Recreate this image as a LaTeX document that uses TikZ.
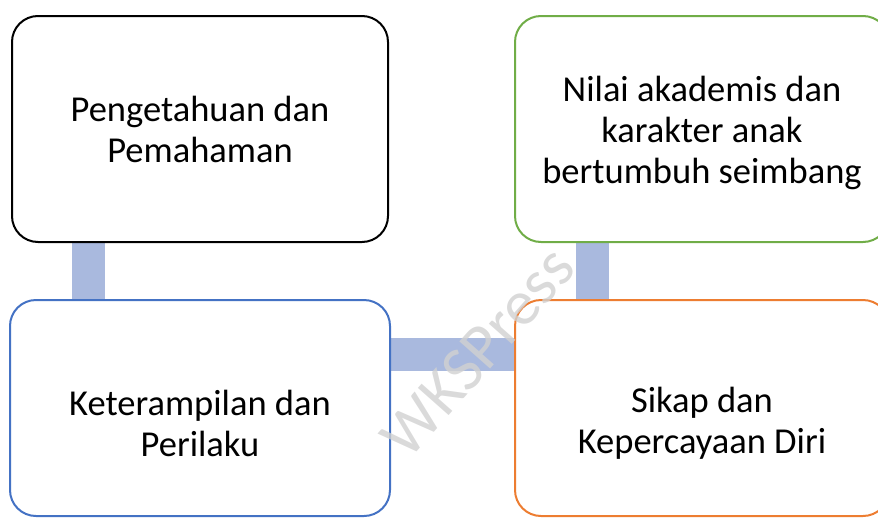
\documentclass[tikz,border=0pt]{standalone}
\usepackage{fontspec}
\setmainfont{Carlito}
\usetikzlibrary{positioning,backgrounds}
\definecolor{barblue}{HTML}{A9B9DE}
\definecolor{lineblue}{HTML}{4472C4}
\definecolor{lineorange}{HTML}{ED7D31}
\definecolor{linegreen}{HTML}{70AD47}

\begin{document}
\begin{tikzpicture}[x=1pt, y=-1pt, node distance={56pt}, line width=2pt,
    main/.style = {draw, fill=white, rounded corners=26pt, minimum width=376pt, minimum height=226pt, inner sep=0pt, align=center, font=\fontsize{36.5}{41}\selectfont},
    txt/.style = {align=center, font=\fontsize{36.5}{41}\selectfont},
    bar/.style = {draw=barblue, line width=33pt}]
    \useasboundingbox (0,0) rectangle (878,517);
    \clip (0,0) rectangle (878,517);
    \node[main] (1) at (200,129) {Pengetahuan dan\\Pemahaman};
    \node[main, draw=lineblue, minimum width=380pt, minimum height=216pt] (3) [below=of 1] {};
    \node[main, draw=lineorange, minimum width=374pt, minimum height=216pt] (4) [right=123pt of 3] {};
    \node[main, draw=linegreen, minimum width=374pt] (2) [above=of 4] {};
    \node[txt] (t2) at ([yshift=-4pt]2.center) {Nilai akademis dan\\karakter anak\\bertumbuh seimbang};
    \node[txt] (t3) at ([yshift=-15pt]3.center) {Keterampilan dan\\Perilaku};
    \node[txt] (t4) at ([yshift=-15pt]4.center) {Sikap dan\\Kepercayaan Diri};
    \begin{scope}[on background layer]
        \draw[bar] ([xshift=-112pt]1.south) -- ([xshift=-112pt]3.north);
        \draw[bar] ([yshift=53.5pt]3.east) -- ([yshift=53.5pt]3.east -| 4.west);
        \draw[bar] ([xshift=-110pt]2.south) -- ([xshift=-110pt]4.north);
    \end{scope}
    \node[rotate=48.5, text=black!18, opacity=0.8, font=\fontsize{64}{64}\selectfont] (wm) at (478,352) {WKSPress};
\end{tikzpicture}
\end{document}
